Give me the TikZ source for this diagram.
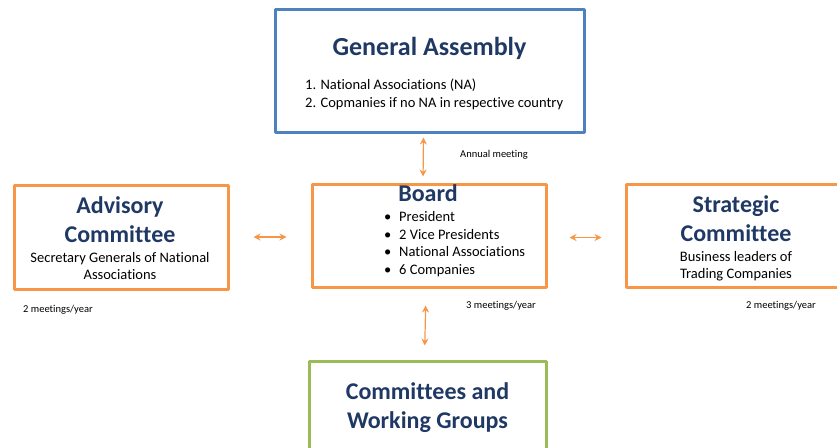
\documentclass[tikz,border=0pt]{standalone}
\usepackage{fontspec}
\setmainfont{Carlito}[RawFeature=-liga]
\usetikzlibrary{arrows.meta}
\definecolor{boxorange}{RGB}{247,150,70}
\definecolor{boxblue}{RGB}{79,129,189}
\definecolor{boxgreen}{RGB}{155,187,89}
\definecolor{titlenavy}{RGB}{31,56,100}
\begin{document}
\begin{tikzpicture}[x=1pt, y=-1pt, line cap=round, line join=round, >={Stealth[length=7pt,width=7pt]},
		box/.style={draw=boxorange, line width=3pt, inner sep=0pt},
		title/.style={font=\fontsize{24}{29}\selectfont\bfseries, text=titlenavy, align=center, inner sep=0pt, anchor=base},
		body/.style={font=\fontsize{14.5}{17}\selectfont, align=center, inner sep=0pt, anchor=base},
		note/.style={font=\fontsize{10.5}{12}\selectfont, inner sep=0pt, anchor=base},
		link/.style={<->, draw=boxorange, line width=1.2pt}]
			\useasboundingbox (0,0) rectangle (837,447);
			\node[box, draw=boxblue, minimum width=309, minimum height=123] (ga) at (429.5,70.5) {};
			\node[box, minimum width=214, minimum height=104] (adv) at (121,237) {};
			\node[box, minimum width=234, minimum height=103] (board) at (429,235.5) {};
			\node[box, minimum width=222, minimum height=103] (strat) at (737,235.5) {};
			\node[box, draw=boxgreen, minimum width=237, minimum height=100] (cwg) at (427.5,411) {};
			\node[title, font=\fontsize{26}{30}\selectfont\bfseries] (gatitle) at (429.5,55) {General Assembly};
			\node[body, anchor=base west, align=left, font=\fontsize{14.5}{18}\selectfont] (galist) at (305,107) {1. National Associations (NA)\\2. Copmanies if no NA in respective country};
			\node[title] (advtitle) at (120,242) {Advisory\\Committee};
			\node[body] (advtext) at (120,279) {Secretary Generals of National\\Associations};
			\node[title] (boardtitle) at (428,201) {Board};
			\node[body, anchor=base west, align=left, font=\fontsize{14.5}{17.5}\selectfont] (boardlist) at (384,274) {\makebox[15pt][l]{\textbullet}President\\\makebox[15pt][l]{\textbullet}2 Vice Presidents\\\makebox[15pt][l]{\textbullet}National Associations\\\makebox[15pt][l]{\textbullet}6 Companies};
			\node[title] (strattitle) at (736,241) {Strategic\\Committee};
			\node[body] (strattext) at (736,278) {Business leaders of\\Trading Companies};
			\node[title] (cwgtitle) at (427.5,428) {Committees and\\Working Groups};
			\node[note] (annual) at (494,157) {Annual meeting};
			\node[note] (advnote) at (58,312) {2 meetings/year};
			\node[note] (boardnote) at (501,308) {3 meetings/year};
			\node[note] (stratnote) at (781,308) {2 meetings/year};
			\draw[link, shorten <=4pt, shorten >=6pt] ([xshift=-6pt]ga.south) -- ([xshift=-6pt]board.north);
			\draw[link, shorten <=24pt, shorten >=24pt] (adv.east) -- (adv.east -| board.west);
			\draw[link, shorten <=22pt, shorten >=23pt] ([yshift=-2pt]board.east) -- ([yshift=-2pt]board.east -| strat.west);
			\draw[link, shorten <=17pt, shorten >=14pt] ([xshift=-3pt]board.south) -- ([xshift=-3pt]cwg.north);
		\end{tikzpicture}
\end{document}
